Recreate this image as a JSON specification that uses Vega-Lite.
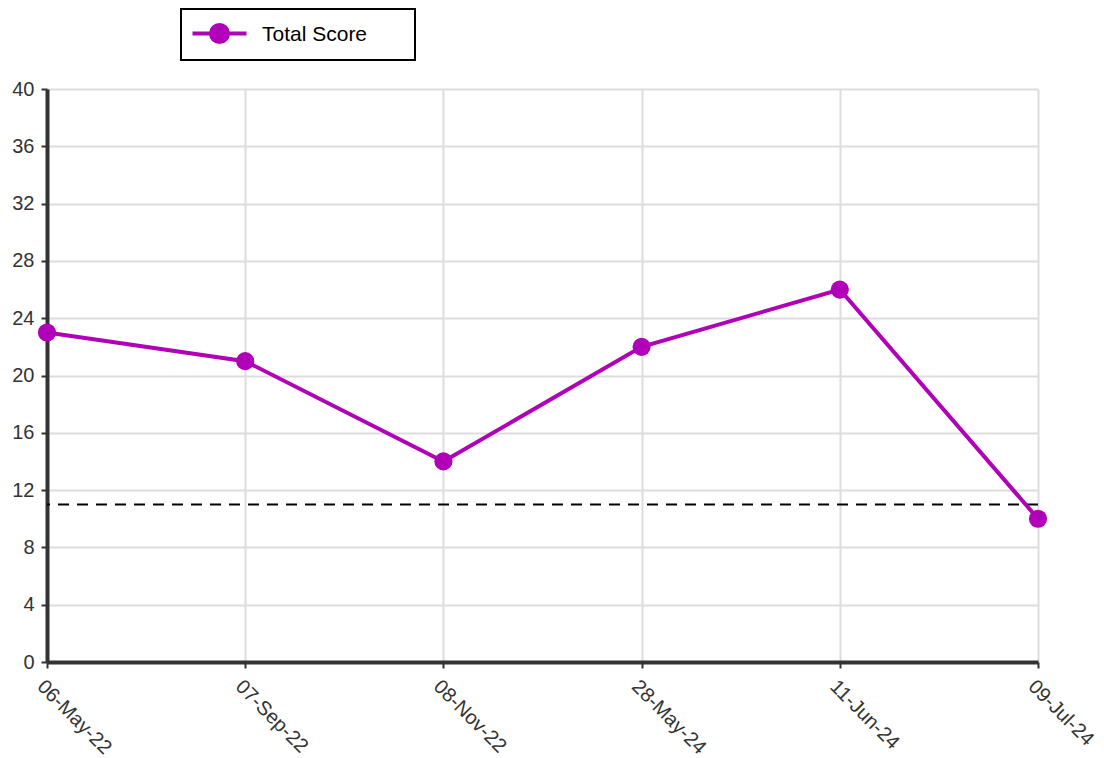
{
  "$schema": "https://vega.github.io/schema/vega-lite/v6.json",
  "width": 991,
  "height": 573,
  "autosize": "none",
  "padding": {"left": 47, "top": 89, "right": 66, "bottom": 96},
  "background": "white",
  "config": {
    "view": {"stroke": null},
    "font": "Liberation Sans"
  },
  "data": {
    "values": [
      {"date": "06-May-22", "score": 23, "series": "Total Score"},
      {"date": "07-Sep-22", "score": 21, "series": "Total Score"},
      {"date": "08-Nov-22", "score": 14, "series": "Total Score"},
      {"date": "28-May-24", "score": 22, "series": "Total Score"},
      {"date": "11-Jun-24", "score": 26, "series": "Total Score"},
      {"date": "09-Jul-24", "score": 10, "series": "Total Score"}
    ]
  },
  "encoding": {
    "x": {
      "field": "date",
      "type": "ordinal",
      "sort": null,
      "scale": {"type": "point", "padding": 0},
      "axis": {
        "title": null,
        "labelAngle": 45,
        "labelAlign": "left",
        "labelBaseline": "top",
        "labelFontSize": 20,
        "labelColor": "#333333",
        "labelPadding": 8,
        "domainColor": "#333333",
        "domainWidth": 4,
        "tickColor": "#333333",
        "tickWidth": 2,
        "tickSize": 6,
        "grid": true,
        "gridColor": "#dddddd",
        "gridWidth": 2
      }
    },
    "y": {
      "field": "score",
      "type": "quantitative",
      "scale": {"domain": [0, 40], "nice": false},
      "axis": {
        "title": null,
        "values": [0, 4, 8, 12, 16, 20, 24, 28, 32, 36, 40],
        "labelFontSize": 20,
        "labelColor": "#333333",
        "labelPadding": 7,
        "domainColor": "#333333",
        "domainWidth": 4,
        "tickColor": "#333333",
        "tickWidth": 2,
        "tickSize": 6,
        "grid": true,
        "gridColor": "#dddddd",
        "gridWidth": 2
      }
    }
  },
  "layer": [
    {
      "data": {"values": [{"threshold": 11}]},
      "mark": {"type": "rule", "color": "black", "strokeWidth": 2, "strokeDash": [11, 8]},
      "encoding": {
        "x": null,
        "y": {"field": "threshold", "type": "quantitative"}
      }
    },
    {
      "mark": {"type": "line", "strokeWidth": 4},
      "encoding": {
        "color": {
          "field": "series",
          "type": "nominal",
          "scale": {"range": ["#b000b8"]},
          "legend": {
            "orient": "none",
            "legendX": 134,
            "legendY": -80,
            "title": " ",
            "titleOrient": "right",
            "titlePadding": 38,
            "titleFontSize": 11,
            "strokeColor": "black",
            "padding": 10,
            "labelFontSize": 21,
            "labelColor": "black",
            "symbolType": "M-5.4,0.8H5.4M1.7,0.8A1.7,1.7,0,1,1,-1.7,0.8A1.7,1.7,0,1,1,1.7,0.8Z",
            "symbolSize": 100,
            "symbolStrokeWidth": 4,
            "symbolStrokeColor": "#b000b8",
            "symbolFillColor": "#b000b8",
            "symbolOffset": 18,
            "labelOffset": 32,
            "encode": {
              "legend": {"update": {"strokeWidth": {"value": 2}}},
              "labels": {"update": {"dy": {"value": 5}}}
            }
          }
        }
      }
    },
    {
      "mark": {"type": "point", "filled": true, "size": 330, "opacity": 1, "color": "#b000b8"}
    }
  ]
}
